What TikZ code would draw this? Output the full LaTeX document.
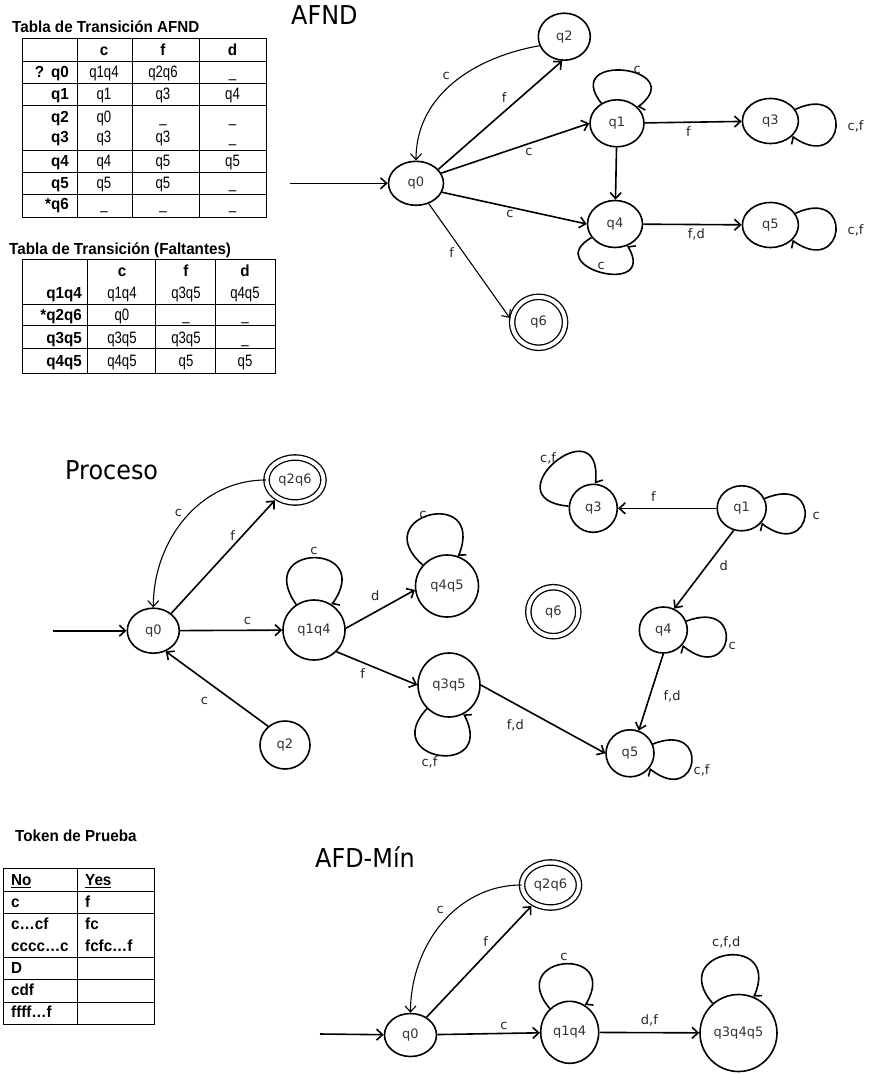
\documentclass[tikz,border=0pt]{standalone}
\usepackage{fontspec}
\usepackage{tikz}
\usetikzlibrary{arrows.meta,shapes.geometric}

\newfontfamily\tabfont{Liberation Sans}[FakeStretch=0.95]
\newfontfamily\tabnarrow{Liberation Sans}[FakeStretch=0.8]
\newfontfamily\figfont{DejaVu Sans}
\newfontfamily\headfont{DejaVu Sans}[FakeStretch=0.92]

\tikzset{
  state/.style={draw, ellipse, fill=white, line width=1.6pt, inner sep=0pt,
    font=\figfont\fontsize{13}{15}\selectfont, text=black!80},
  final/.style={state, double, double distance=4pt, line width=1.3pt},
  trans/.style={-{Straight Barb[length=6pt,width=11pt]}, line width=1.6pt},
  thinedge/.style={line width=1.1pt},
  loopcw/.style={line width=1.6pt, -{Straight Barb[left,length=3pt,width=14pt]}},
  loopccw/.style={line width=1.6pt, -{Straight Barb[right,length=3pt,width=14pt]}},
  lbl/.style={font=\figfont\fontsize{13}{15}\selectfont, text=black!85, inner sep=1pt},
  heading/.style={font=\headfont\fontsize{26}{30}\selectfont, anchor=base west, inner sep=0pt},
  tabtitle/.style={font=\tabfont\bfseries\fontsize{16}{19}\selectfont, anchor=base west, inner sep=0pt},
  rowhead/.style={font=\tabfont\bfseries\fontsize{16}{19}\selectfont, anchor=base east, inner sep=0pt},
  colhead/.style={font=\tabfont\bfseries\fontsize{16}{19}\selectfont, anchor=base, inner sep=0pt},
  cell/.style={font=\tabnarrow\fontsize{16.5}{19}\selectfont, anchor=base, inner sep=0pt},
  tokcell/.style={font=\tabfont\bfseries\fontsize{16}{19}\selectfont, anchor=base west, inner sep=0pt},
  tabline/.style={line width=0.9pt},
}

\begin{document}
\begin{tikzpicture}[x=1pt, y=-1pt]
  \fill[white] (0,0) rectangle (880,1074);
  \useasboundingbox (0,0) rectangle (880,1074);

  % transition table of the AFND
  \node[tabtitle] (t1) at (12,32.5) {Tabla de Transición AFND};
  \draw[tabline] (22,38) rectangle (266,217);
  \foreach \xx in {77,132,199} \draw[tabline] (\xx,38) -- (\xx,217);
  \foreach \yy in {61,83,105,150,172,194} \draw[tabline] (22,\yy) -- (266,\yy);
  \foreach \h/\xx in {c/104, f/163, d/232.5}
    \node[colhead] (t1h\h) at (\xx,55) {\h};
  \foreach \s/\c/\f/\d/\yy [count=\r] in {?\hspace{7pt}q0/q1q4/q2q6/\_/77.5,
      q1/q1/q3/q4/99.5, q2/q0/\_/\_/122, q3/q3/q3/\_/142.5, q4/q4/q5/q5/166.5,
      q5/q5/q5/\_/188.5, *q6/\_/\_/\_/209.5}{
    \node[rowhead] (t1s\r) at (69,\yy) {\s};
    \node[cell] (t1c\r) at (104,\yy) {\c};
    \node[cell] (t1f\r) at (163,\yy) {\f};
    \node[cell] (t1d\r) at (232.5,\yy) {\d};
  }

  % transition table, missing states
  \node[tabtitle] (t2) at (9,254) {Tabla de Transición (Faltantes)};
  \draw[tabline] (22,259) rectangle (275,373);
  \foreach \xx in {87,155,215} \draw[tabline] (\xx,259) -- (\xx,373);
  \foreach \yy in {304,325,348} \draw[tabline] (22,\yy) -- (275,\yy);
  \foreach \h/\xx in {c/122, f/186, d/245}
    \node[colhead] (t2h\h) at (\xx,276.5) {\h};
  \foreach \s/\c/\f/\d/\yy [count=\r] in {q1q4/q1q4/q3q5/q4q5/298,
      *q2q6/q0/\_/\_/320.5, q3q5/q3q5/q3q5/\_/343, q4q5/q4q5/q5/q5/366.5}{
    \node[rowhead] (t2s\r) at (82,\yy) {\s};
    \node[cell] (t2c\r) at (122,\yy) {\c};
    \node[cell] (t2f\r) at (186,\yy) {\f};
    \node[cell] (t2d\r) at (245,\yy) {\d};
  }

  % test tokens
  \node[tabtitle] (tk) at (15,841.5) {Token de Prueba};
  \draw[tabline] (3,868) rectangle (154,1024);
  \draw[tabline] (77,868) -- (77,1024);
  \foreach \yy in {891,913,957,979,1002} \draw[tabline] (3,\yy) -- (154,\yy);
  \foreach \w/\yy [count=\r] in {\underline{No}/885.5, c/907.5, c…cf/929.5,
      cccc…c/951.5, D/973.5, cdf/995.5, ffff…f/1017.5}
    \node[tokcell] (tno\r) at (11,\yy) {\w};
  \foreach \w/\yy [count=\r] in {\underline{Yes}/885.5, f/907.5, fc/929.5, fcfc…f/951.5}
    \node[tokcell] (tyes\r) at (85,\yy) {\w};

  % AFND
  \node[heading] (hafnd) at (291,24) {AFND};
  \node[state, minimum width=55pt, minimum height=44pt] (a0) at (416,183.3) {q0};
  \node[state, minimum width=52pt, minimum height=47pt] (a2) at (564.3,36.7) {q2};
  \node[state, minimum width=54pt, minimum height=47pt] (a1) at (617,123.3) {q1};
  \node[state, minimum width=56pt, minimum height=45pt] (a3) at (770.4,121) {q3};
  \node[state, minimum width=55pt, minimum height=47pt] (a4) at (615,224) {q4};
  \node[state, minimum width=56pt, minimum height=45pt] (a5) at (770.4,225) {q5};
  \node[final, minimum width=53pt, minimum height=51pt] (a6) at (538.6,322.3) {q6};
  \coordinate (ain) at (289.6,183.3);
  \draw[trans] (ain) -- (a0);
  \draw[trans, thinedge] (a2.200) to[out=190,in=90] node[lbl, above left=2pt] {c} (a0.north);
  \draw[trans] (a0.32) -- node[lbl, pos=.58, above left=2pt] {f} (a2.265);
  \draw[trans] (a0.22) -- node[lbl, pos=.55, below right=1pt] {c} (a1.west);
  \draw[trans] (a0.341) -- node[lbl, pos=.47, below=1pt] {c} (a4.west);
  \draw[trans, thinedge, shorten >=3pt] (a0.302) -- node[lbl, pos=.42, left=8pt] {f} (a6.176);
  \draw[trans] (a1) -- node[lbl, pos=.45, below=3pt] {f} (a3);
  \draw[trans] (a1) -- (a4);
  \draw[trans] (a4) -- node[lbl, pos=.54, below=2pt] {f,d} (a5);
  \draw[loopcw] (a1) to[out=128,in=38,distance=66pt] node[lbl, right=8pt] {c} (a1);
  \draw[loopcw] (a3) to[out=25,in=-35,distance=65pt] node[lbl, right=10pt] {c,f} (a3);
  \draw[loopcw] (a5) to[out=25,in=-35,distance=65pt] node[lbl, right=10pt] {c,f} (a5);
  \draw[loopccw] (a4) to[out=-150,in=-60,distance=60pt] node[lbl, above=1pt] {c} (a4);

  % Proceso
  \node[heading] (hproc) at (65,479) {Proceso};
  \node[state, minimum width=52pt, minimum height=45pt] (p0) at (153.3,630.7) {q0};
  \node[final, minimum width=57pt, minimum height=45pt] (p26) at (295,480) {q2q6};
  \node[state, minimum width=62pt, minimum height=60pt] (p14) at (314,630) {q1q4};
  \node[state, minimum width=63pt, minimum height=62pt] (p45) at (447,586) {q4q5};
  \node[state, minimum width=62pt, minimum height=64pt] (p35) at (449,685) {q3q5};
  \node[state, minimum width=50pt, minimum height=48pt] (p2) at (285,745) {q2};
  \node[state, minimum width=48pt, minimum height=48pt] (p3) at (593.3,508.3) {q3};
  \node[state, minimum width=49pt, minimum height=45pt] (p1) at (741.7,508.3) {q1};
  \node[final, minimum width=50pt, minimum height=49pt] (p6) at (553.3,611.7) {q6};
  \node[state, minimum width=48pt, minimum height=46pt] (p4) at (663.3,630) {q4};
  \node[state, minimum width=48pt, minimum height=47pt] (p5) at (630,753.3) {q5};
  \coordinate (pin) at (53.3,630.7);
  \draw[trans] (pin) -- (p0);
  \draw[trans, thinedge] (p26.180) to[out=180,in=90] node[lbl, above left=1pt] {c} (p0.north);
  \draw[trans, shorten >=3pt] (p0.44) -- node[lbl, pos=.62, above left=0pt] {f} (p26.225);
  \draw[trans] (p0) -- node[lbl, pos=.66, above=4pt] {c} (p14);
  \draw[trans] (p14.3) -- node[lbl, pos=.57, above left=4pt] {d} (p45.187);
  \draw[trans] (p14.316) -- node[lbl, pos=.4, below left=2pt] {f} (p35.west);
  \draw[trans] (p2.132) -- node[lbl, pos=.5, below left=7pt] {c} (p0.301);
  \draw[trans] (p35.east) -- node[lbl, pos=.4, below left=5pt] {f,d} (p5.west);
  \draw[trans] (p1) -- node[lbl, pos=.64, above=5pt] {f} (p3);
  \draw[trans] (p1.250) -- node[lbl, pos=.45, right=11pt] {d} (p4.63);
  \draw[trans] (p4.south) -- node[lbl, pos=.55, right=12pt] {f,d} (p5.69);
  \draw[loopcw] (p14) to[out=125,in=55,distance=76pt] node[lbl, above=1pt] {c} (p14);
  \draw[loopcw] (p45) to[out=139,in=69,distance=76pt] node[lbl, left=1pt] {c} (p45);
  \draw[loopccw] (p35) to[out=-133,in=-63,distance=72pt] node[lbl, below left=0pt] {c,f} (p35);
  \draw[loopcw] (p3) to[out=175,in=85,distance=80pt] node[lbl, above left=-3pt] {c,f} (p3);
  \draw[loopcw] (p1) to[out=23,in=-37,distance=65pt] node[lbl, right=6pt] {c} (p1);
  \draw[loopcw] (p4) to[out=21,in=-39,distance=65pt] node[lbl, pos=.58, right=3pt] {c} (p4);
  \draw[loopcw] (p5) to[out=22,in=-38,distance=63pt] node[lbl, pos=.6, right=3pt] {c,f} (p5);

  % AFD minimo
  \node[heading] (hmin) at (315,867) {AFD-Mín};
  \node[state, minimum width=52pt, minimum height=43pt] (m0) at (410.5,1035) {q0};
  \node[final, minimum width=57pt, minimum height=45pt] (m26) at (550.5,885) {q2q6};
  \node[state, minimum width=58pt, minimum height=62pt] (m14) at (569.7,1032.3) {q1q4};
  \node[state, minimum width=77pt, minimum height=77pt] (m345) at (738.5,1033) {q3q4q5};
  \coordinate (min) at (320,1034);
  \draw[trans] (min) -- (m0);
  \draw[trans, thinedge] (m26.180) to[out=180,in=90] node[lbl, pos=.45, above left=2pt] {c} (m0.north);
  \draw[trans, shorten >=3pt] (m0.48) -- node[lbl, pos=.6, above left=1pt] {f} (m26.228);
  \draw[trans] (m0) -- node[lbl, pos=.65, above=2pt] {c} (m14);
  \draw[trans] (m14) -- node[lbl, above=5pt] {d,f} (m345);
  \draw[loopcw] (m14) to[out=130,in=60,distance=70pt] node[lbl, above=2pt] {c} (m14);
  \draw[loopcw] (m345) to[out=131,in=67,distance=71pt] node[lbl, above=6pt] {c,f,d} (m345);
\end{tikzpicture}
\end{document}
